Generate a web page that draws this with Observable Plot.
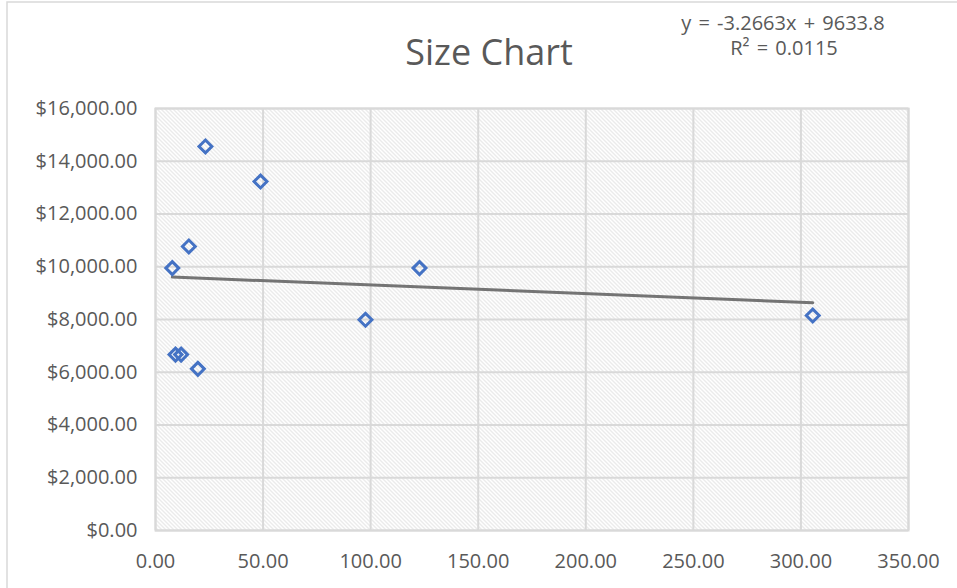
<!DOCTYPE html>
<html>
<head>
<meta charset="utf-8">
<script src="https://cdn.jsdelivr.net/npm/d3@7"></script>
<script src="https://cdn.jsdelivr.net/npm/@observablehq/plot@0.6"></script>
<style>
  html, body { margin: 0; padding: 0; background: #fff; }
  #chart svg text { font-family: "Open Sans", sans-serif; }
</style>
</head>
<body>
<div id="chart"></div>
<script>
// ---- data ----
const sizes  = [23.2, 48.8, 15.5, 7.8, 122.7, 97.6, 305.5, 9.3, 11.9, 19.7];
const prices = [14560, 13230, 10770, 9950, 9950, 7990, 8150, 6670, 6670, 6130];
const xTicks = [0, 50, 100, 150, 200, 250, 300, 350];
const yTicks = [0, 2000, 4000, 6000, 8000, 10000, 12000, 14000, 16000];
const trendSlope = -3.2663;
const trendIntercept = 9633.8;
const titleText = "Size Chart";
const equationText = "y = -3.2663x + 9633.8";
const r2Text = "R² = 0.0115";

const points = sizes.map((s, i) => ({size: s, price: prices[i]}));
const trendXs = [d3.min(sizes), d3.max(sizes)];
const trend = trendXs.map(x => ({size: x, price: trendSlope * x + trendIntercept}));

const gridColor = "#d9d9d9";
const textColor = "#595959";

const svg = Plot.plot({
  width: 957,
  height: 588,
  marginLeft: 155,
  marginRight: 49,
  marginTop: 108,
  marginBottom: 58,
  style: {fontFamily: "Open Sans", fontSize: "20px", color: textColor, background: "white"},
  x: {
    domain: [0, 350],
    ticks: xTicks,
    tickFormat: d3.format(".2f"),
    tickSize: 0,
    tickPadding: 23,
    label: null
  },
  y: {
    domain: [0, 16000],
    ticks: yTicks,
    tickFormat: d3.format("$,.2f"),
    tickSize: 0,
    tickPadding: 18,
    label: null
  },
  marks: [
    Plot.frame({fill: "url(#hatch)", stroke: "none"}),
    Plot.ruleX(xTicks, {stroke: gridColor, strokeWidth: 2, strokeOpacity: 1}),
    Plot.ruleY(yTicks, {stroke: gridColor, strokeWidth: 2, strokeOpacity: 1}),
    Plot.frame({stroke: gridColor, strokeWidth: 2}),
    Plot.line(trend, {x: "size", y: "price", stroke: "#747474", strokeWidth: 3}),
    Plot.dot(points, {x: "size", y: "price", symbol: "diamond2", r: 5.8, stroke: "#4472C4", strokeWidth: 3, fill: "none"})
  ]
});

const s = d3.select(svg);
const defs = s.insert("defs", ":first-child");
const pat = defs.append("pattern")
  .attr("id", "hatch")
  .attr("patternUnits", "userSpaceOnUse")
  .attr("width", 4)
  .attr("height", 4);
pat.append("rect").attr("width", 4).attr("height", 4).attr("fill", "#ffffff");
pat.append("path")
  .attr("d", "M-1,-1L5,5M-1,3L1,5M3,-1L5,1")
  .attr("stroke", "#d6d6d6")
  .attr("stroke-width", 1)
  .attr("fill", "none");

// chart outer border
s.append("rect")
  .attr("x", 7).attr("y", 2)
  .attr("width", 1000).attr("height", 1000)
  .attr("fill", "none")
  .attr("stroke", gridColor)
  .attr("stroke-width", 1.5);

s.append("text")
  .attr("x", 489).attr("y", 65)
  .attr("text-anchor", "middle")
  .attr("fill", textColor)
  .style("font-size", "36px")
  .text(titleText);

s.append("text")
  .attr("x", 783).attr("y", 30)
  .attr("text-anchor", "middle")
  .attr("fill", textColor)
  .style("font-size", "20px")
  .style("word-spacing", "2px")
  .text(equationText);

s.append("text")
  .attr("x", 784).attr("y", 55)
  .attr("text-anchor", "middle")
  .attr("fill", textColor)
  .style("font-size", "20px")
  .style("word-spacing", "2px")
  .text(r2Text);

document.getElementById("chart").appendChild(svg);
</script>
</body>
</html>
